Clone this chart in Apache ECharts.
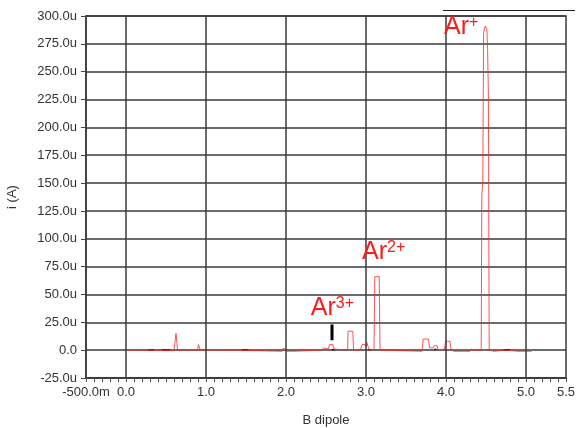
<!DOCTYPE html>
<html>
<head>
<meta charset="utf-8">
<script src="https://cdn.jsdelivr.net/npm/echarts@6/dist/echarts.min.js"></script>
<style>
  html, body { margin: 0; padding: 0; background: #fff; }
  #chart { width: 579px; height: 428px; }
</style>
</head>
<body>
<div id="chart"></div>
<script>
// B dipole 扫描 (x) 和 电流 i, 单位 uA
let bDipole = [0, 0.2, 0.21, 0.6, 0.62, 0.625, 0.635, 0.645, 0.895, 0.905, 0.915, 0.93,
  1.3, 1.31, 1.95, 1.97, 1.99, 2.01, 2.1, 2.12, 2.45, 2.47, 2.49, 2.53, 2.545, 2.585, 2.6,
  2.77, 2.775, 2.835, 2.845, 2.93, 2.95, 2.99, 3.0, 3.01, 3.03, 3.04, 3.1, 3.11, 3.165, 3.175,
  3.2, 3.7, 3.715, 3.78, 3.795, 3.84, 3.855, 3.89, 3.9, 3.98, 3.995, 4.05, 4.065, 4.1, 4.3,
  4.32, 4.35, 4.44, 4.448, 4.46, 4.47, 4.49, 4.51, 4.52, 4.53, 4.54, 4.6, 4.75, 4.9, 5.07]
let current = [0, 0, -0.5, -0.5, 0, 15, 15, 0, 0, 5, 4, 0,
  0, -1, -1, 2, 1, -1, -1, 0, 0, 2, 1, 1, 5, 5, 1,
  0, 17, 17, 0, 0, 5, 5, 3, 7, 6, 0, 0, 66, 66, 0,
  -1, -1, 10, 10, 2, 2, 4, 4, 0, 1, 8, 8, 0, -1, -1,
  1, 0, 0, 140, 150, 285, 291, 289, 270, 230, 0, -1, 0, -1, -1]

// 黑色的小段（叠加的另一条曲线）
let darkB = [0.28, 0.35, null, 0.45, 0.55, null, 1.45, 1.53, null, 2.57, 2.61, null, 3.03, 3.06, null, 3.85, 3.88, null, 4.72, 4.8]
let darkI = [0.2, 0.2, null, 0.2, 0.2, null, 0.2, 0.2, null, 0.3, 0.3, null, 0.3, 0.3, null, 0.5, 0.5, null, 0.3, 0.3]

let gridX = [0, 1, 2, 3, 4, 5]

// 离子标注: 名称, 电荷, 位置(B, i)
let ionNames = ['Ar', 'Ar', 'Ar']
let ionCharges = ['+', '2+', '3+']
let ionPos = [[3.975, 278], [2.95, 76], [2.31, 26]]
let markerB = [2.575, 2.575]
let markerI = [9, 23]

let traceData = bDipole.map((b, i) => [b, current[i]])
let darkData = darkB.map((b, i) => b === null ? null : [b, darkI[i]])

let font = 'Liberation Sans'
let chart = echarts.init(document.getElementById('chart'))
chart.setOption({
  animation: false,
  backgroundColor: '#fff',
  grid: { left: 86, right: 13, top: 16, bottom: 50, show: true, borderColor: '#3a3a3a', borderWidth: 1.5, outerBoundsMode: 'none' },
  xAxis: {
    type: 'value', min: -0.5, max: 5.5, interval: 0.1,
    name: 'B dipole', nameLocation: 'middle', nameGap: 36,
    nameTextStyle: { color: '#333', fontSize: 13, fontFamily: font },
    axisLine: { show: true, onZero: false, lineStyle: { color: '#3a3a3a', width: 1.5 } },
    axisTick: { show: true, length: 4, lineStyle: { color: '#555' } },
    splitLine: { show: false },
    axisLabel: {
      showMinLabel: true, showMaxLabel: true, margin: 8,
      color: '#333', fontSize: 13, fontFamily: font,
      formatter: function (v) {
        if (Math.abs(v + 0.5) < 1e-6) return '-500.0m'
        if (Math.abs(v - 5.5) < 1e-6) return '5.5'
        if (Math.abs(v - Math.round(v)) < 1e-6) return Math.round(v).toFixed(1)
        return ''
      }
    }
  },
  yAxis: {
    type: 'value', min: -25, max: 300, interval: 25,
    name: 'i (A)', nameLocation: 'middle', nameGap: 67, nameRotate: 90,
    nameTextStyle: { color: '#333', fontSize: 13, fontFamily: font },
    axisLine: { show: true, onZero: false, lineStyle: { color: '#3a3a3a', width: 1.5 } },
    axisTick: { show: true, length: 5, lineStyle: { color: '#444' } },
    splitLine: { show: true, lineStyle: { color: '#3a3a3a', width: 1.5 } },
    axisLabel: {
      margin: 9, color: '#333', fontSize: 13, fontFamily: font,
      formatter: v => v === 0 ? '0.0' : v.toFixed(1) + 'u'
    }
  },
  series: [
    {
      name: 'grid', type: 'line', data: [], z: 1,
      markLine: {
        silent: true, symbol: 'none', label: { show: false },
        lineStyle: { color: '#3a3a3a', width: 1.5, type: 'solid' },
        data: gridX.map(x => ({ xAxis: x }))
      }
    },
    {
      name: 'dark', type: 'line', data: darkData, z: 2, symbol: 'none',
      connectNulls: false, lineStyle: { color: '#222', width: 1.5 }
    },
    {
      name: 'trace', type: 'line', data: traceData, z: 3, symbol: 'none',
      lineStyle: { color: 'rgba(255,40,40,0.8)', width: 1 },
      markPoint: {
        symbol: 'circle', symbolSize: 0, silent: true,
        data: ionPos.map((p, i) => ({
          coord: p,
          label: {
            show: true, position: [0, 0], align: 'left', verticalAlign: 'bottom',
            formatter: '{a|' + ionNames[i] + '}{s|' + ionCharges[i] + '}',
            rich: {
              a: { color: '#ff1a1a', fontSize: 25, fontFamily: font, lineHeight: 26 },
              s: { color: '#ff1a1a', fontSize: 16, fontFamily: font, verticalAlign: 'top', lineHeight: 26, padding: [0, 0, 10, 0] }
            }
          }
        }))
      }
    },
    {
      name: 'marker', type: 'line', data: markerB.map((b, i) => [b, markerI[i]]), z: 4,
      symbol: 'none', lineStyle: { color: '#000', width: 3 }
    }
  ],
  graphic: [
    { type: 'line', shape: { x1: 443, y1: 10.5, x2: 575, y2: 10.5 }, style: { stroke: '#222', lineWidth: 1.2 } }
  ]
})
</script>
</body>
</html>
